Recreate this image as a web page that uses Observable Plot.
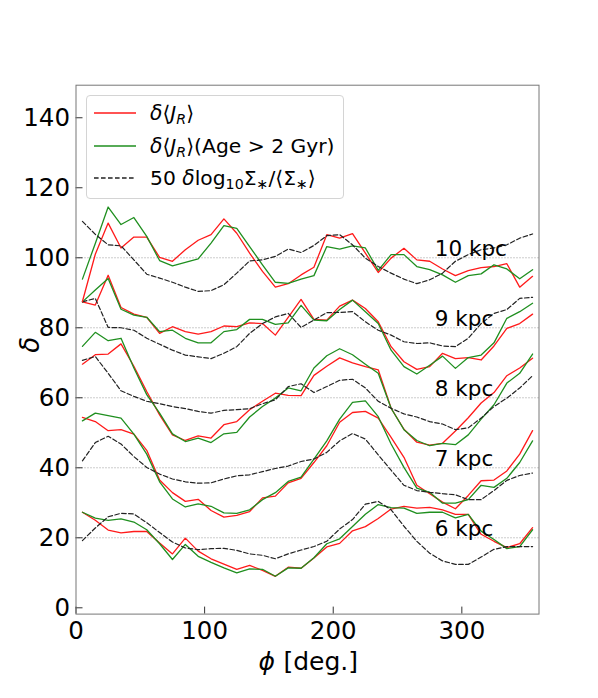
<!DOCTYPE html>
<html><head><meta charset="utf-8">
<script src="https://cdn.jsdelivr.net/npm/d3@7"></script>
<script src="https://cdn.jsdelivr.net/npm/@observablehq/plot@0.6"></script>
<style>
body{margin:0;background:#fff;}
#wrap{position:relative;width:598px;height:698px;font-family:"DejaVu Sans",sans-serif;color:#000;}
#legend{position:absolute;left:86px;top:95px;width:258px;height:104px;border:1px solid #d4d4d4;border-radius:4px;background:rgba(255,255,255,0.85);box-sizing:border-box;}
.row{position:absolute;left:0;height:26px;line-height:26px;font-size:20.3px;white-space:nowrap;}
.row svg{position:absolute;left:6px;top:0;}
.row .t{position:absolute;left:63px;top:0;}
.sub{font-size:0.7em;position:relative;top:0.3em;}
</style>
</head><body><div id="wrap"></div>
<script>
// azimuth bins (deg)
const phi = [5,15,25,35,45,55,65,75,85,95,105,115,125,135,145,155,165,175,185,195,205,215,225,235,245,255,265,275,285,295,305,315,325,335,345,355];

// radius labels and reference (offset) levels
const radii = ["6 kpc","7 kpc","8 kpc","9 kpc","10 kpc"];
const offsets = [20,40,60,80,100];
const labelPhi = 279;

// 10 kpc
const red10 = [87.5,101,109.9,102.8,105.9,105.9,100.1,99,102.3,105,106.6,111.1,107,101.3,96.1,91.6,92.6,95.1,97.3,106.6,105.6,106.9,101.3,95.8,99.9,102.7,99.4,99,96.8,94.9,96.3,97.2,97.5,98.3,91.6,94.7];
const green10 = [93.9,104.1,114.5,109.5,111.5,106.1,99.2,97.7,98.7,99.7,104.2,109.2,108.4,103.2,98,93,92.7,93.9,94.9,103.2,102.5,103.4,102.8,96.4,100.9,100.9,97.5,96.6,95.1,93,94.9,95.4,98,96.8,94,96.6];
const dens10 = [110.4,106.7,103.7,103.4,99.4,95.3,94.2,93,91.6,90.4,90.6,92.3,95.6,99.1,99.4,100.4,102.5,101.5,103.5,106.3,106.6,103.7,99.9,97.5,95.6,93.9,92.6,93.7,95.6,99,100.9,102.3,102.8,103.7,105.6,106.8];

// 9 kpc
const red9 = [87.4,86.5,95,85.8,83.9,83,78.4,80.3,78.9,78.2,78.9,80.5,80.3,81.4,81.2,77.9,83,88.1,82.4,82.2,86.2,87.9,85.5,81.7,74.6,70.3,68.1,68.9,72.7,71.2,71.5,70.8,74.8,79.8,81.2,83.9];
const green9 = [87.4,90.8,94.1,85.3,83.6,83,78.9,79.3,77,75.7,75.7,78.9,79.5,82.4,82.4,81,81.4,86.4,82.2,82,85.2,87.9,84.6,81.2,73.6,68.9,66.8,69.3,71.9,68.4,71.5,72.2,75.7,82.7,84.6,87];
const dens9 = [87.4,88.4,80.1,80,79.3,77,75.3,73.6,72.2,71.7,71.2,72.7,74.6,78.4,81.2,83.1,84.1,80.1,82.2,84.3,84.4,84.6,81.7,79.3,77.9,76,75.5,75.7,74.8,74.6,77,81.2,84.1,85.2,88.4,88.7];

// 8 kpc
const red8 = [69.6,72.3,72.5,75.4,69,61.8,55.1,49.4,47.8,49.1,48.5,52.3,53.2,56.6,59,61.3,60.7,60.6,66.4,69,71.4,70,68.9,68,57,51,47.3,46.5,47,50.5,54.3,58.5,61.5,66.3,68.5,71.3];
const green8 = [74.7,78.7,76.3,77,68.5,60.9,55.6,49.7,47.5,48.5,47.2,49.7,50.1,54.5,57.5,59.9,62.8,62,68.5,72,74,72.3,69.6,67,57,50.9,47.8,46.3,47,46.6,49.4,53.9,58,64.2,67,72.5];
const dens8 = [70.7,71.8,67,62,60.4,59,58.3,57.5,56.9,56.1,55.6,56.4,56.6,56.9,58.3,59.4,63.2,64,61.5,63.2,65,65.3,62.8,59,57,55.4,54.5,53.2,52.5,50.9,51.4,54.2,57.5,59.9,62.8,66.3];

// 7 kpc
const red7 = [54.4,53.2,50.6,50.9,49.6,45,36.5,32.9,30.4,31,27.8,25.9,26.4,27.5,31.4,31.9,35.7,37,41.5,46.3,53,55.8,56.1,54.2,48.7,43,35,32.6,30.2,28.3,32.1,36.3,36.5,39.1,43.9,50.6];
const green7 = [53.4,55.6,54.9,54.2,49.6,43.9,36,31.1,28.8,29.7,29,27.1,27,28,30.9,32.9,36.1,37.3,42.5,47.7,53.9,58.7,59.1,54.6,46.8,40.1,34.2,33,29.9,29.9,30.9,35,34.4,37,41.5,47.7];
const dens7 = [42,47.2,49,46.8,43.2,40.1,38.2,36.8,36,35.6,35.7,36.8,37.7,38,38.9,39.8,40.5,41.8,42.5,44.4,47.7,49.8,48.2,43.7,39.3,35,33.5,33,32.6,32.3,30.9,30.9,33.5,36.4,37.8,38.5];

// 6 kpc
const red6 = [27.3,25,22.2,21.4,21.8,21.8,18.5,15.4,19.9,16.2,14,12.5,11,12.1,10.7,9,11.6,11.3,14.2,17.4,18.4,22,23.2,25.5,28.2,29,28.5,28.7,28,26.7,26.7,21,19,17.2,18.3,22.9];
const green6 = [27.3,25.6,25,25.4,24.5,22.3,18.3,13.8,18.1,14.7,13,11.4,10,11.1,11,9,11.4,11.3,14.3,18.3,19.7,23.2,26.7,29.5,28.6,28.5,27,27.3,27.3,25.7,26.7,21.9,19.5,16.9,17.5,22.3];
const dens6 = [19.2,22.8,26,27,26.8,24.3,21.5,18.8,17.1,16.6,16.9,17,16.4,15.4,15,14,15.4,16.5,17.5,19,22.5,25.2,29.6,30.4,28,23.3,19,15.6,13.4,12.4,12.4,14.5,16.7,17.5,17.5,17.5];

// axis ticks
const xTicks = [0,100,200,300];
const yTicks = [0,20,40,60,80,100,120,140];

const W = 598, H = 698, mL = 75.5, mR = 59.5, mT = 84.7, mB = 84.4;
const plotW = W - mL - mR, plotH = H - mT - mB;
const tickLen = 7;

const toRows = arr => phi.map((p, i) => ({phi: p, v: arr[i]}));
const groups = [
  [red6, green6, dens6],
  [red7, green7, dens7],
  [red8, green8, dens8],
  [red9, green9, dens9],
  [red10, green10, dens10]
];
const lineMarks = [];
for (const [r, g, k] of groups) {
  lineMarks.push(Plot.line(toRows(r), {x: "phi", y: "v", stroke: "#ff1a1a", strokeWidth: 1.3}));
  lineMarks.push(Plot.line(toRows(g), {x: "phi", y: "v", stroke: "#1f8f1f", strokeWidth: 1.3}));
  lineMarks.push(Plot.line(toRows(k), {x: "phi", y: "v", stroke: "#222", strokeWidth: 1.2, strokeDasharray: "4.6,2.4"}));
}

const chart = Plot.plot({
  width: W, height: H,
  marginLeft: mL, marginRight: mR, marginTop: mT, marginBottom: mB,
  style: {fontFamily: "DejaVu Sans, sans-serif", background: "white", color: "black", overflow: "visible"},
  x: {domain: [0, 360]},
  y: {domain: [-1.8, 149.3]},
  marks: [
    Plot.ruleY(offsets, {y: d => d, stroke: "#999", strokeWidth: 1, strokeDasharray: "1,2"}),
    ...lineMarks,
    Plot.text(radii, {x: () => labelPhi, y: (d, i) => offsets[i] + 0.5, text: d => d, textAnchor: "start", lineAnchor: "bottom", fontSize: 21.5, fill: "black"}),
    Plot.tickX(xTicks, {x: d => d, insetTop: plotH - tickLen, stroke: "#333", strokeWidth: 1}),
    Plot.tickY(yTicks, {y: d => d, insetRight: plotW - tickLen, stroke: "#333", strokeWidth: 1}),
    Plot.axisX(xTicks, {tickSize: 0, tickPadding: 7, fontSize: 24.5, label: null}),
    Plot.axisY(yTicks, {tickSize: 0, tickPadding: 6, fontSize: 24.5, label: null}),
    Plot.text(["ϕ"], {text: d => d, frameAnchor: "bottom", dx: -49, dy: 56, textAnchor: "start", lineAnchor: "bottom", fontStyle: "italic", fontSize: 25}),
    Plot.text(["[deg.]"], {text: d => d, frameAnchor: "bottom", dx: -24, dy: 56, textAnchor: "start", lineAnchor: "bottom", fontSize: 25}),
    Plot.text(["δ"], {text: d => d, frameAnchor: "left", dx: -45, dy: 3, rotate: -90, fontStyle: "italic", fontSize: 26}),
    Plot.frame({stroke: "#777", strokeWidth: 1})
  ]
});

const wrap = document.getElementById("wrap");
wrap.appendChild(chart);

const legendItems = [
  {stroke: "#ff1a1a", dash: null, html: '<i>δ</i>⟨<i>J</i><span class="sub"><i>R</i></span>⟩'},
  {stroke: "#1f8f1f", dash: null, html: '<i>δ</i>⟨<i>J</i><span class="sub"><i>R</i></span>⟩(Age &gt; 2 Gyr)'},
  {stroke: "#222", dash: "4.6,2.4", html: '50 <i>δ</i>log<span class="sub">10</span>Σ<span class="sub">∗</span>/⟨Σ<span class="sub">∗</span>⟩'}
];
const rowTops = [4, 36.5, 68.5];
const legend = document.createElement("div");
legend.id = "legend";
legendItems.forEach((it, i) => {
  const row = document.createElement("div");
  row.className = "row";
  row.style.top = rowTops[i] + "px";
  row.innerHTML = `<svg width="44" height="26"><line x1="1" y1="13" x2="43" y2="13" stroke="${it.stroke}" stroke-width="1.3" ${it.dash ? `stroke-dasharray="${it.dash}"` : ""}/></svg><span class="t">${it.html}</span>`;
  legend.appendChild(row);
});
wrap.appendChild(legend);
</script>
</body></html>
